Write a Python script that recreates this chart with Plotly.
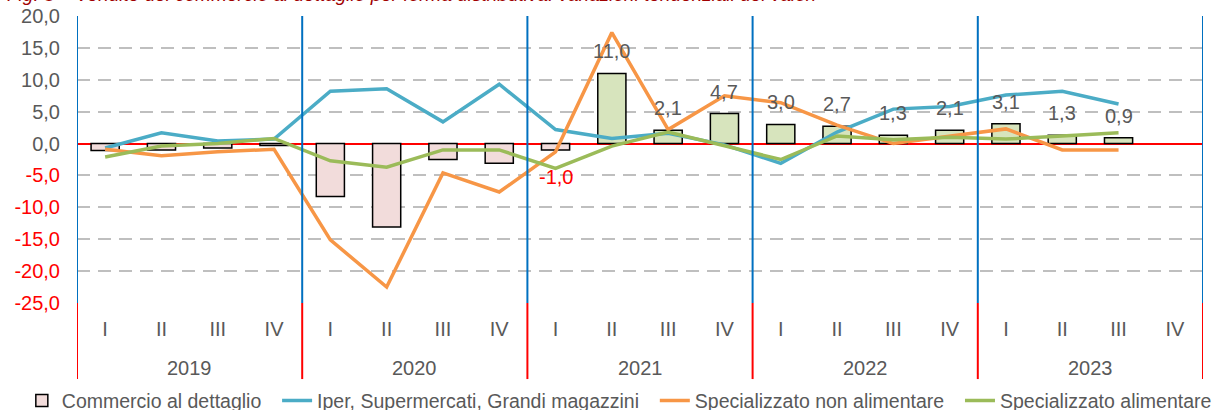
import plotly.graph_objects as go

# Quarterly year-on-year changes (%) by retail channel
years = ["2019", "2020", "2021", "2022", "2023"]
quarters = ["I", "II", "III", "IV"]

commercio = [-1.1, -1.0, -0.7, -0.3,
             -8.3, -13.1, -2.5, -3.1,
             -1.0, 11.0, 2.1, 4.7,
             3.0, 2.7, 1.3, 2.1,
             3.1, 1.3, 0.9, None]
iper = [-0.7, 1.7, 0.4, 0.7,
        8.2, 8.6, 3.4, 9.3,
        2.2, 0.8, 1.6, -0.2,
        -3.1, 1.8, 5.4, 5.8,
        7.6, 8.2, 6.2, None]
non_alimentare = [-0.9, -1.9, -1.3, -0.9,
                  -15.1, -22.5, -4.6, -7.6,
                  -1.3, 17.4, 2.2, 7.5,
                  6.4, 2.9, 0.0, 1.1,
                  2.3, -1.0, -1.0, None]
alimentare = [-2.1, -0.4, 0.0, 0.8,
              -2.7, -3.7, -1.0, -1.0,
              -3.9, -0.4, 1.8, -0.4,
              -2.5, 1.2, 0.6, 1.0,
              0.7, 1.2, 1.7, None]
first_labelled_year = "2021"

series_names = ["Commercio al dettaglio", "Iper, Supermercati, Grandi magazzini",
                "Specializzato non alimentare", "Specializzato alimentare"]
title_text = ("Fig. 3 – Vendite del commercio al dettaglio per forma distributiva: "
              "variazioni tendenziali dei valori")

FONT = "Liberation Sans, Arial, sans-serif"
GREY = "#595959"
n_q = len(quarters)
n = len(years) * n_q
xs = list(range(n))
quarter_labels = [quarters[i % n_q] for i in xs]
PAD = "\u00a0\u00a0"  # extra room between legend entries


def fmt(v):
    return f"{v:.1f}".replace(".", ",")


fig = go.Figure()

bar_colors = ["#d7e4bd" if (v is not None and v >= 0) else "#f2dcdb" for v in commercio]
fig.add_trace(go.Bar(
    x=xs, y=commercio, name=series_names[0] + PAD, width=0.5,
    marker=dict(color=bar_colors, line=dict(color="black", width=1.5)),
))
for name, vals, col in [(series_names[1] + PAD, iper, "#4bacc6"),
                        (series_names[2] + PAD, non_alimentare, "#f79646"),
                        (series_names[3], alimentare, "#9bbb59")]:
    fig.add_trace(go.Scatter(x=xs, y=vals, name=name, mode="lines",
                             line=dict(color=col, width=3.5)))

# value labels on the bars from the first labelled year onwards
start = years.index(first_labelled_year) * n_q
for i in xs[start:]:
    v = commercio[i]
    if v is None:
        continue
    neg = v < 0
    fig.add_annotation(x=i, y=v, text=fmt(v), showarrow=False,
                       yshift=-27 if neg else 22,
                       font=dict(family=FONT, size=20, color="red" if neg else GREY))

# year labels under the quarter labels
for k, yr in enumerate(years):
    fig.add_annotation(x=k * n_q + (n_q - 1) / 2, y=-0.2265, xref="x", yref="paper",
                       text=yr, showarrow=False, yanchor="middle",
                       font=dict(family=FONT, size=20, color=GREY))

# year separators: blue inside the plot, red across the axis labels
for k in range(len(years) + 1):
    xb = k * n_q - 0.5
    fig.add_shape(type="line", x0=xb, x1=xb, y0=0, y1=1, xref="x", yref="paper",
                  line=dict(color="#0070c0", width=2), layer="above")
    fig.add_shape(type="line", x0=xb, x1=xb, y0=-0.265, y1=0, xref="x", yref="paper",
                  line=dict(color="#ff0000", width=2), layer="above")

# chart title (top edge of the page)
fig.add_annotation(x=-0.064, y=1.032, xref="paper", yref="paper", xanchor="left",
                   yanchor="bottom", text=f"<i>{title_text}</i>", showarrow=False,
                   font=dict(family=FONT, size=19, color="#a00000"))

yvals = list(range(-25, 21, 5))
ytext = [f'<span style="color:red">{fmt(v)}</span>' if v < 0 else fmt(v) for v in yvals]

fig.update_layout(
    width=1222, height=410,
    margin=dict(l=77, r=19, t=16, b=107, autoexpand=False),
    paper_bgcolor="white", plot_bgcolor="white",
    font=dict(family=FONT, size=20, color=GREY),
    showlegend=True,
    legend=dict(orientation="h", x=-0.049, y=-0.2726, xanchor="left", yanchor="top",
                font=dict(family=FONT, size=19.5, color=GREY), itemwidth=30,
                bgcolor="rgba(0,0,0,0)"),
    xaxis=dict(range=[-0.5, n - 0.5], tickmode="array", tickvals=xs,
               ticktext=quarter_labels, showgrid=False, zeroline=False,
               showline=False, ticks="", ticklabelstandoff=12, automargin=False,
               tickfont=dict(family=FONT, size=20, color=GREY)),
    yaxis=dict(range=[-25, 20], tickmode="array", tickvals=yvals, ticktext=ytext,
               showgrid=True, gridcolor="#bfbfbf", gridwidth=2, griddash="13px,8px",
               zeroline=True, zerolinecolor="#ff0000", zerolinewidth=2,
               showline=False, ticks="", ticklabelstandoff=16, automargin=False,
               tickfont=dict(family=FONT, size=20, color=GREY)),
)

fig.write_html("out.html")
